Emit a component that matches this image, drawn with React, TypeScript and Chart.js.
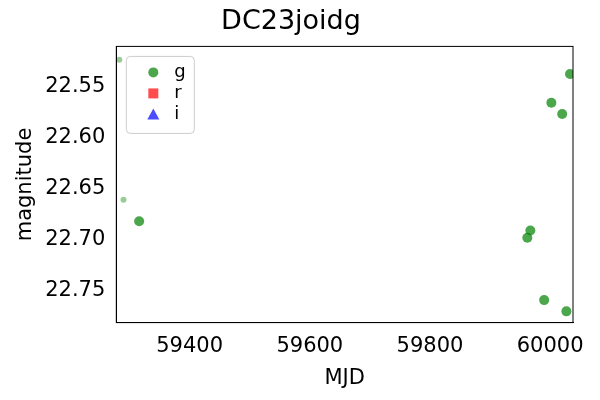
import { useEffect, useRef } from "react";
import Chart from "chart.js/auto";

const mainX = [59316, 60002, 60020, 60033, 59967, 59962, 59990, 60027];
const mainY = [22.682, 22.566, 22.577, 22.538, 22.691, 22.698, 22.759, 22.77];
const faintX = [59283, 59290];
const faintY = [22.524, 22.661];
const xTicks = [59400, 59600, 59800, 60000];
const yTicks = [22.55, 22.6, 22.65, 22.7, 22.75];
const legendLabels = ["g", "r", "i"];
const legendColors = ["rgba(0,128,0,0.7)", "rgba(255,0,0,0.7)", "rgba(0,0,255,0.7)"];

const legendPlugin = {
  id: "insideLegend",
  afterDraw(chart: any) {
    const { ctx, chartArea } = chart;
    // full frame around the plot area
    ctx.save();
    ctx.strokeStyle = "#000";
    ctx.lineWidth = 1;
    ctx.strokeRect(chartArea.left, chartArea.top, chartArea.right - chartArea.left, chartArea.bottom - chartArea.top);
    const x0 = chartArea.left + 10;
    const y0 = chartArea.top + 10;
    ctx.fillStyle = "rgba(255,255,255,0.8)";
    ctx.strokeStyle = "#ccc";
    ctx.beginPath();
    ctx.roundRect(x0, y0, 68, 77, 4);
    ctx.fill();
    ctx.stroke();
    ctx.font = "18px 'DejaVu Sans'";
    ctx.textBaseline = "middle";
    legendLabels.forEach((l, i) => {
      const cy = y0 + 16 + i * 21;
      const cx = x0 + 27;
      ctx.fillStyle = legendColors[i];
      ctx.beginPath();
      if (i === 0) ctx.arc(cx, cy, 5, 0, Math.PI * 2);
      else if (i === 1) ctx.rect(cx - 5, cy - 5, 10, 10);
      else { ctx.moveTo(cx, cy - 6); ctx.lineTo(cx + 6, cy + 5); ctx.lineTo(cx - 6, cy + 5); ctx.closePath(); }
      ctx.fill();
      ctx.fillStyle = "#000";
      ctx.fillText(l, x0 + 48, cy);
    });
    ctx.restore();
  },
};

export default function App() {
  const ref = useRef<HTMLCanvasElement>(null);
  useEffect(() => {
    document.body.style.margin = "0";
    const chart = new Chart(ref.current!, {
      type: "scatter",
      data: {
        datasets: [
          {
            data: mainX.map((x, i) => ({ x, y: mainY[i] })),
            backgroundColor: "rgba(0,128,0,0.7)",
            borderWidth: 0,
            pointRadius: 5,
          },
          {
            data: faintX.map((x, i) => ({ x, y: faintY[i] })),
            backgroundColor: "rgba(0,128,0,0.4)",
            borderWidth: 0,
            pointRadius: 3,
          },
        ],
      },
      options: {
        animation: false,
        responsive: false,
        layout: { padding: { left: 9, right: 27, top: 0, bottom: 5 } },
        plugins: {
          legend: { display: false },
          tooltip: { enabled: false },
          title: {
            display: true,
            text: "DC23joidg",
            color: "#000",
            font: { family: "DejaVu Sans", size: 27, weight: "normal" },
            padding: { top: 6, bottom: 8 },
          },
        },
        scales: {
          x: {
            type: "linear",
            min: 59278,
            max: 60038,
            grid: { display: false },
            border: { color: "#000" },
            ticks: {
              color: "#000",
              font: { family: "DejaVu Sans", size: 21 },
              callback: (v: any) => String(v),
            },
            afterBuildTicks: (a: any) => {
              a.ticks = xTicks.map((v) => ({ value: v }));
            },
            title: { display: true, text: "MJD", color: "#000", font: { family: "DejaVu Sans", size: 21 } },
          },
          y: {
            reverse: true,
            min: 22.511,
            max: 22.781,
            grid: { display: false },
            border: { color: "#000" },
            afterBuildTicks: (a: any) => {
              a.ticks = yTicks.map((v) => ({ value: v }));
            },
            ticks: {
              color: "#000",
              font: { family: "DejaVu Sans", size: 21 },
              callback: (v: any) => Number(v).toFixed(2),
            },
            title: { display: true, text: "magnitude", color: "#000", font: { family: "DejaVu Sans", size: 21 } },
          },
        },
      },
      plugins: [legendPlugin],
    });
    return () => chart.destroy();
  }, []);
  return <canvas ref={ref} width={600} height={400} />;
}
